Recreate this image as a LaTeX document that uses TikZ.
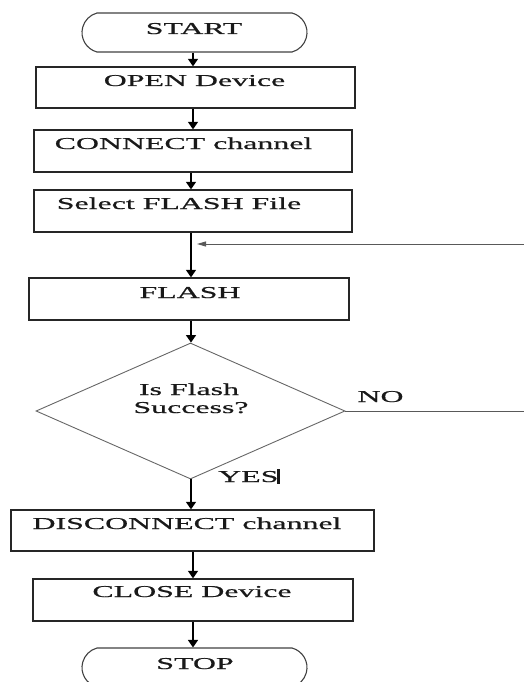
\documentclass[tikz,border=0pt]{standalone}
\usepackage{fontspec}
\setmainfont{Liberation Serif}[FakeStretch=1.92,FakeBold=0.8]
\usetikzlibrary{shapes.geometric,shapes.misc,arrows.meta}
\begin{document}
\begin{tikzpicture}[x=1pt,y=-1pt,
  box/.style={draw=black!85,line width=1.3pt,rectangle,inner sep=0pt},
  term/.style={draw=black!75,line width=1.1pt,rounded rectangle,rounded rectangle arc length=150,inner sep=0pt,minimum width=225pt,minimum height=39pt},
  txt/.style={inner sep=0pt,anchor=base,text=black!90,font=\fontsize{16.6}{18}\selectfont},
  arr/.style={line width=1.4pt,-{Triangle[length=7.5pt,width=10pt]}},
  thinline/.style={draw=black!65,line width=0.9pt},
]
\useasboundingbox (0,0) rectangle (524,682);
% nodes
\node[term] (start) at (194.5,32.5) {};
\node[txt] (tstart) at (194,34) {START};
\node[box,minimum width=319pt,minimum height=41pt] (open) at (195.5,87.5) {};
\node[txt] (topen) at (194.5,86) {OPEN Device};
\node[box,minimum width=318pt,minimum height=42pt] (connect) at (193,151) {};
\node[txt] (tconnect) at (183.5,149) {CONNECT channel};
\node[box,minimum width=318pt,minimum height=42pt] (select) at (193,211) {};
\node[txt] (tselect) at (179,209) {Select FLASH File};
\node[box,minimum width=320pt,minimum height=42pt] (flash) at (189,299) {};
\node[txt] (tflash) at (190,298) {FLASH};
\node[diamond,draw=black!60,line width=0.9pt,inner sep=0pt,minimum width=309pt,minimum height=136pt] (dec) at (190.5,411) {};
\node[txt] (tdec1) at (189,395) {Is Flash};
\node[txt] (tdec2) at (191,413) {Success?};
\node[txt] (tno) at (380.5,402) {NO};
\node[txt,anchor=base west] (tyes) at (218,482) {YES\kern-1pt\rule[-1.5pt]{2.8pt}{15pt}};
\node[box,minimum width=363pt,minimum height=41pt] (disc) at (192.5,530.5) {};
\node[txt] (tdisc) at (187,529) {DISCONNECT channel};
\node[box,minimum width=320pt,minimum height=42pt] (close) at (193,600) {};
\node[txt] (tclose) at (192,597) {CLOSE Device};
\node[term] (stop) at (194.5,667.5) {};
\node[txt] (tstop) at (195,669) {STOP};
% helper coordinates
\coordinate (xa) at (193,0);
\coordinate (xb) at (191,0);
\coordinate (fbR) at (524,244);
\coordinate (fbL) at (197,244);
\coordinate (noR) at (524,411);
% connectors
\draw[arr] (start.south -| xa) -- (open.north -| xa);
\draw[arr] (open.south -| xa) -- (connect.north -| xa);
\draw[arr] (connect.south -| xb) -- (select.north -| xb);
\draw[arr] (select.south -| xb) -- (flash.north -| xb);
\draw[arr] (flash.south -| xb) -- (dec.north -| xb);
\draw[arr] (dec.south -| xb) -- (disc.north -| xb);
\draw[arr] (disc.south -| xa) -- (close.north -| xa);
\draw[arr] (close.south -| xa) -- (stop.north -| xa);
\draw[thinline,-{Triangle[length=9pt,width=5pt]}] (fbR) -- (fbL);
\draw[thinline] (dec.east) -- (noR);
\end{tikzpicture}
\end{document}
